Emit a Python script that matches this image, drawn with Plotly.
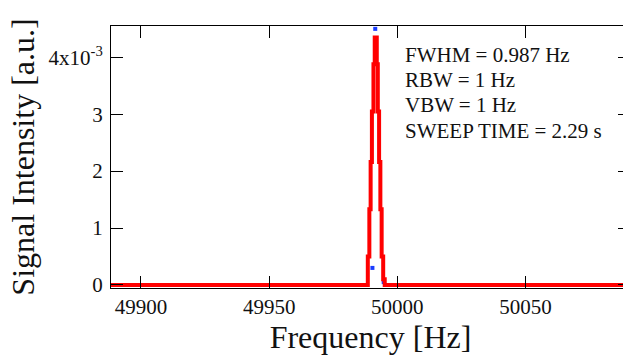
import plotly.graph_objects as go

# Red trace (stepped spectrum), frequency in Hz, intensity in a.u.
red_freq = [49888.0, 49988.5, 49989.1, 49989.6, 49990.1, 49990.7, 49991.2,
            49992.0, 49992.4, 49992.9, 49993.4, 49993.9, 49994.5, 49995.1, 50092.0]
red_vals = [0.0, 0.50e-3, 1.33e-3, 2.16e-3, 3.05e-3, 3.88e-3, 4.35e-3,
            3.88e-3, 3.05e-3, 2.16e-3, 1.33e-3, 0.50e-3, 0.10e-3, 0.0, 0.0]

# Blue points (raw samples visible outside the red line)
blue_freq = [49888.4, 49990.3, 49991.4, 49994.7]
blue_vals = [0.0, 0.30e-3, 4.50e-3, 0.05e-3]

y_tickvals = [0, 1e-3, 2e-3, 3e-3, 4e-3]
y_ticktext = ["0", "1", "2", "3", "4x10<sup>-3</sup>"]
x_tickvals = [49900, 49950, 50000, 50050]
x_ticktext = ["49900", "49950", "50000", "50050"]

notes = ["FWHM = 0.987 Hz", "RBW = 1 Hz", "VBW = 1 Hz", "SWEEP TIME = 2.29 s"]

FONT = "Liberation Serif, Times New Roman, serif"

fig = go.Figure()
fig.add_trace(go.Scatter(x=blue_freq, y=blue_vals, mode="markers",
                         marker=dict(symbol="square", size=4, color="#1a3cff"),
                         showlegend=False, hoverinfo="skip"))
fig.add_trace(go.Scatter(x=red_freq, y=red_vals, mode="lines",
                         line=dict(color="#ff0000", width=4, shape="hv"),
                         showlegend=False))

W, H = 630, 356
ml, mr, mt, mb = 111, 0, 26, 68
pw, ph = W - ml - mr, H - mt - mb

for i, t in enumerate(notes):
    px, py = 403, 55 + i * 25.2
    fig.add_annotation(x=(px - ml) / pw, y=1 - (py - mt) / ph, xref="paper", yref="paper",
                       text=t, showarrow=False, xanchor="left", yanchor="middle",
                       font=dict(family=FONT, size=21, color="#111"))

axis_common = dict(showline=True, linecolor="black", linewidth=1, mirror="ticks",
                   ticks="inside", ticklen=12, tickcolor="black", tickwidth=1,
                   showgrid=False, zeroline=False,
                   tickfont=dict(family=FONT, size=21, color="#111"))

fig.update_layout(
    width=W, height=H,
    margin=dict(l=ml, r=mr, t=mt, b=mb, pad=0),
    paper_bgcolor="white", plot_bgcolor="white",
    xaxis=dict(range=[49888.3, 50090.8], tickvals=x_tickvals, ticktext=x_ticktext,
               title=dict(text="Frequency [Hz]", font=dict(family=FONT, size=32, color="#111"),
                          standoff=0),
               ticklabelstandoff=0, **axis_common),
    yaxis=dict(range=[-0.053e-3, 4.55e-3], tickvals=y_tickvals, ticktext=y_ticktext,
               title=dict(text="Signal Intensity [a.u.]", font=dict(family=FONT, size=32, color="#111"),
                          standoff=4),
               ticklabelstandoff=3, **axis_common),
)

fig.write_html("out.html", config={"displayModeBar": False},
               post_script="document.body.style.margin='0px';document.body.style.overflow='hidden';")
